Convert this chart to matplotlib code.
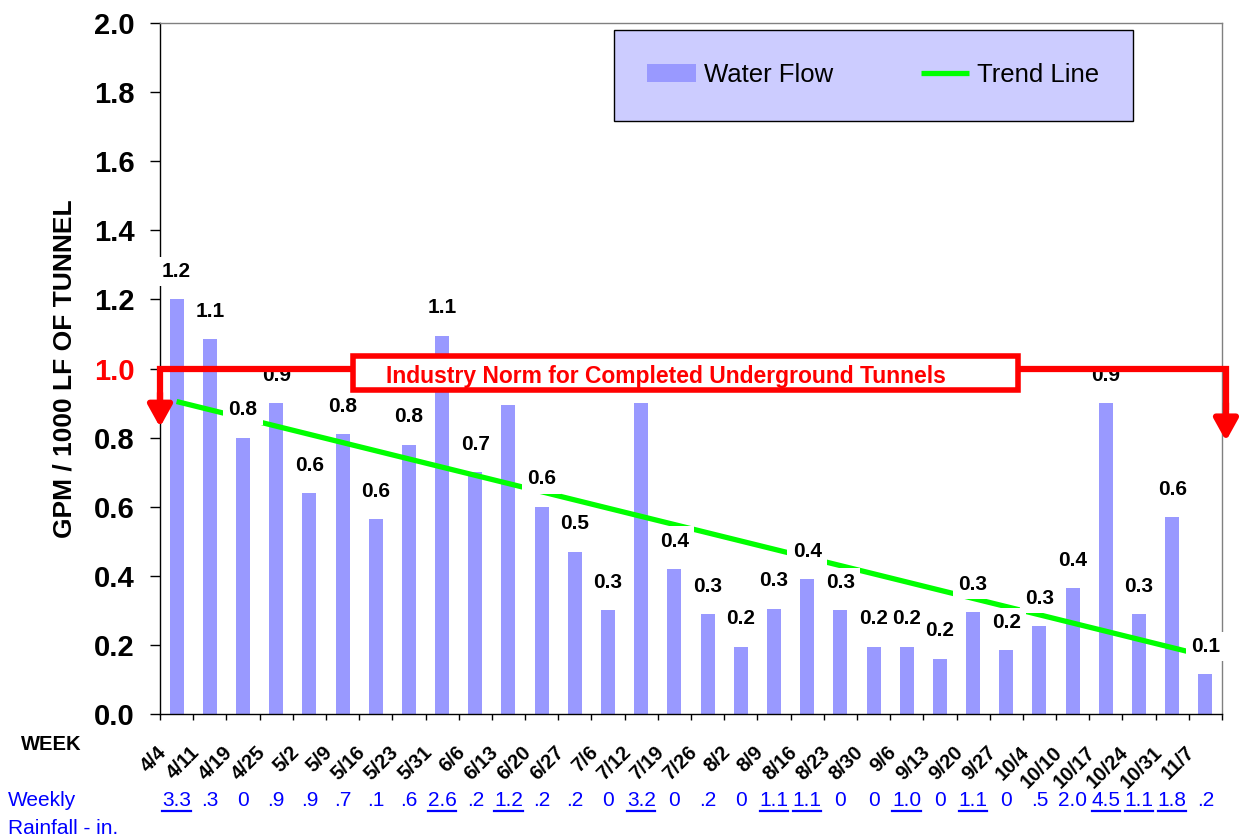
import numpy as np
import matplotlib
matplotlib.use("Agg")
import matplotlib.pyplot as plt
from matplotlib.patches import Rectangle

# ---------------- data ----------------
weeks = ["4/4", "4/11", "4/19", "4/25", "5/2", "5/9", "5/16", "5/23", "5/31",
         "6/6", "6/13", "6/20", "6/27", "7/6", "7/12", "7/19", "7/26", "8/2",
         "8/9", "8/16", "8/23", "8/30", "9/6", "9/13", "9/20", "9/27", "10/4",
         "10/10", "10/17", "10/24", "10/31", "11/7"]
water_flow = [1.20, 1.085, 0.80, 0.90, 0.64, 0.81, 0.565, 0.78, 1.095,
              0.70, 0.895, 0.60, 0.47, 0.30, 0.90, 0.42, 0.29, 0.195,
              0.305, 0.39, 0.30, 0.195, 0.195, 0.16, 0.295, 0.185, 0.255,
              0.365, 0.90, 0.29, 0.57, 0.115]
rainfall = ["3.3", ".3", "0", ".9", ".9", ".7", ".1", ".6", "2.6",
            ".2", "1.2", ".2", ".2", "0", "3.2", "0", ".2", "0",
            "1.1", "1.1", "0", "0", "1.0", "0", "1.1", "0", ".5",
            "2.0", "4.5", "1.1", "1.8", ".2"]
rain_underlined = [1, 0, 0, 0, 0, 0, 0, 0, 1,
                   0, 1, 0, 0, 0, 1, 0, 0, 0,
                   1, 1, 0, 0, 1, 0, 1, 0, 0,
                   0, 1, 1, 1, 0]
industry_norm = 1.0
norm_label = "Industry Norm for Completed Underground Tunnels"
y_ticks = [0.0, 0.2, 0.4, 0.6, 0.8, 1.0, 1.2, 1.4, 1.6, 1.8, 2.0]

plt.rcParams["font.family"] = ["Liberation Sans", "DejaVu Sans"]

fig = plt.figure(figsize=(12.39, 8.40), dpi=100)
ax = fig.add_axes([160 / 1239, 1 - 714 / 840, 1062 / 1239, 691 / 840])

x = np.arange(len(weeks))
bars = ax.bar(x, water_flow, width=0.42, color="#9999FF", label="Water Flow", zorder=2)

# linear trend line (least squares, as the spreadsheet does)
coef = np.polyfit(x, water_flow, 1)
trend = np.polyval(coef, x)
trend_line, = ax.plot(x, trend, color="#00FF00", lw=3.8, label="Trend Line", zorder=3,
                      solid_capstyle="butt")

# industry norm box extent (data coords)
box_x0, box_w = 5.31, 20.04
box_y0, box_h = industry_norm - 0.062, 0.098

# data labels with white boxes (those falling inside the norm box are hidden by it)
for i, v in enumerate(water_flow):
    lab = ax.annotate(f"{v:.1f}", (i, v), xytext=(0, 20), textcoords="offset points",
                      ha="center", va="center", fontsize=15, fontweight="bold",
                      bbox=dict(boxstyle="square,pad=0.25", fc="white", ec="none"),
                      zorder=5, annotation_clip=False)
    label_y = v + 20 / 72 * 100 / (691 / 2.0)
    if box_x0 < i < box_x0 + box_w and box_y0 < label_y < box_y0 + box_h:
        lab.set_visible(False)

ax.set_xlim(-0.5, len(weeks) - 0.5)
ax.set_ylim(y_ticks[0], y_ticks[-1])

# y axis
ax.set_yticks(y_ticks)
ax.set_yticklabels([f"{t:.1f}" for t in y_ticks])
ax.tick_params(axis="y", direction="out", length=7.5, width=1, labelsize=21, pad=11)
for t, lab in zip(y_ticks, ax.get_yticklabels()):
    lab.set_fontweight("bold")
    if abs(t - industry_norm) < 1e-9:
        lab.set_color("red")
ax.set_ylabel("GPM / 1000 LF OF TUNNEL", fontsize=19, fontweight="bold")
ax.yaxis.set_label_coords(-0.079, 0.5)

# x axis: ticks at category boundaries, labels rotated
ax.set_xticks(np.arange(len(weeks) + 1) - 0.5)
ax.tick_params(axis="x", direction="out", length=4.5, width=1, labelbottom=False)
xtr = ax.get_xaxis_transform()
for i, w in enumerate(weeks):
    ax.text(i - 0.4, -0.051, w, transform=xtr, rotation=45, rotation_mode="anchor",
            ha="right", va="center", fontsize=14.5, fontweight="bold")

# rainfall row
for i, (r, u) in enumerate(zip(rainfall, rain_underlined)):
    ax.text(i, -0.1245, r, transform=xtr, ha="center", va="center",
            fontsize=15, color="#0000FF")
    if u:
        ax.plot([i - 0.43, i + 0.43], [-0.1404, -0.1404], transform=xtr,
                color="#0000FF", lw=1.6, clip_on=False)

fig.text(21 / 1239, 1 - 744 / 840, "WEEK", ha="left", va="center",
         fontsize=14.5, fontweight="bold")
fig.text(8 / 1239, 1 - 800 / 840, "Weekly", ha="left", va="center",
         fontsize=15, color="#0000FF")
fig.text(8 / 1239, 1 - 828 / 840, "Rainfall - in.", ha="left", va="center",
         fontsize=15, color="#0000FF")

# spines
for s in ["left", "bottom"]:
    ax.spines[s].set_color("black")
    ax.spines[s].set_linewidth(1)
for s in ["top", "right"]:
    ax.spines[s].set_color("#808080")
    ax.spines[s].set_linewidth(1)

# industry norm bracket with arrows
xl, xr = -0.5, len(weeks) - 0.5 + 0.12
ax.plot([xl, xl, xr, xr], [0.9, industry_norm, industry_norm, 0.88], color="red",
        lw=4.5, solid_joinstyle="miter", solid_capstyle="butt", clip_on=False, zorder=7)
arrow_kw = dict(arrowstyle="-|>,head_length=0.65,head_width=0.36", color="red",
                lw=4.5, mutation_scale=20, shrinkA=0, shrinkB=0)
ax.annotate("", xy=(xl, 0.83), xytext=(xl, 0.93), arrowprops=arrow_kw,
            annotation_clip=False, zorder=7)
ax.annotate("", xy=(xr, 0.79), xytext=(xr, 0.9), arrowprops=arrow_kw,
            annotation_clip=False, zorder=7)
ax.add_patch(Rectangle((box_x0, box_y0), box_w, box_h, fc="white",
                       ec="red", lw=4, zorder=8))
ax.text(14.75, industry_norm - 0.022, norm_label, ha="center", va="center",
        fontsize=16.5, fontweight="bold", color="red", zorder=9)

# legend
leg = ax.legend(handles=[bars, trend_line], loc="upper left",
                bbox_to_anchor=(0.4275, 0.99), ncol=2,
                fontsize=18.5, frameon=True, fancybox=False, facecolor="#CCCCFF",
                edgecolor="black", framealpha=1, borderpad=1.3, handlelength=1.9,
                handletextpad=0.3, columnspacing=3.4, borderaxespad=0)
leg.get_frame().set_linewidth(1.0)
leg.set_zorder(10)

fig.savefig("out.png", dpi=100, facecolor="white")
